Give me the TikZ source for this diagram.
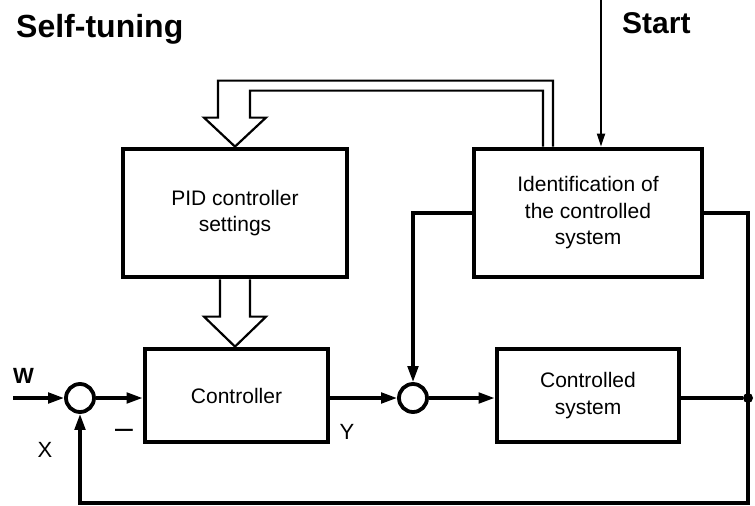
\documentclass[tikz,border=0pt]{standalone}
\usepackage{fontspec}
\setmainfont{Liberation Sans}
\usetikzlibrary{arrows.meta,calc}

\begin{document}
\begin{tikzpicture}[x=1pt,y=-1pt,
    blk/.style={draw,line width=4.8pt,align=center,font=\fontsize{21}{26.5}\selectfont},
    sum/.style={circle,draw,line width=3.8pt,minimum size=28pt,inner sep=0pt},
    sig/.style={line width=3.3pt,-{Triangle[length=16pt,width=10.5pt]}},
    wire/.style={line width=3.3pt},
    hollow/.style={line width=2.2pt,fill=white,line join=miter},
    lbl/.style={font=\fontsize{22}{26}\selectfont}]
  \useasboundingbox (0,0) rectangle (755,506);
  % blocks
  \node[blk,minimum width=224pt,minimum height=128pt] (pid) at (235,213) {PID controller\\settings};
  \node[blk,minimum width=228pt,minimum height=128pt] (id) at (588,213) {Identification of\\the controlled\\system};
  \node[blk,minimum width=183pt,minimum height=93pt] (ctrl) at (236.5,395.5) {Controller};
  \node[blk,minimum width=182pt,minimum height=93pt] (plant) at (588,395.5) {Controlled\\system};
  \node[sum] (s1) at (80,398) {};
  \node[sum] (s2) at (413,398) {};
  \node[circle,fill,inner sep=0pt,minimum size=10pt] (dot) at (748,398) {};
  \coordinate (win) at (13,398);
  \coordinate (fb) at (748,503);
  \coordinate (st) at (601,0);
  % texts
  \node[font=\fontsize{32}{36}\selectfont\bfseries,anchor=base west,inner sep=0pt] (title) at (16,37) {Self-tuning};
  \node[font=\fontsize{30}{36}\selectfont\bfseries,anchor=base west,inner sep=0pt] (start) at (622,34) {Start};
  \node[lbl,font=\fontsize{22}{26}\selectfont\bfseries,anchor=base west,inner sep=0pt] (w) at (13,383) {W};
  \node[lbl] (x) at (45,450) {X};
  \node[lbl] (y) at (347,432) {Y};
  \node[font=\fontsize{32}{36}\selectfont,anchor=base,inner sep=0pt] (minus) at (124,438.5) {–};
  % signals
  \draw[sig] (win) -- (s1.west);
  \draw[sig] (s1.east) -- (s1 -| ctrl.west);
  \draw[sig] (s2 -| ctrl.east) -- (s2.west);
  \draw[sig] (s2.east) -- (s2 -| plant.west);
  \draw[wire] (dot -| plant.east) -- (dot);
  \draw[sig] (id.east) -| (fb) -| (s1.south);
  \draw[sig] (id.west) -| (s2.north);
  \draw[line width=2pt,-{Triangle[length=13pt,width=8pt]}] (st) -- (st |- id.north);
  % hollow arrows
  \draw[hollow] ([xshift=-15pt]pid.south) -- ++(0,37.2) -- ++(-16,0) -- (pid.south |- ctrl.north) -- ++(31,-30) -- ++(-16,0) -- ([xshift=15pt]pid.south);
  \draw[hollow] ([xshift=-45pt]id.north) -- ++(0,-56) -| ([xshift=15pt,yshift=29pt]pid.north) -- ++(16,0) -- (pid.north) -- ++(-31,-29) -- ++(14,0) -- ++(0,-37) -| ([xshift=-35pt]id.north);
\end{tikzpicture}
\end{document}
